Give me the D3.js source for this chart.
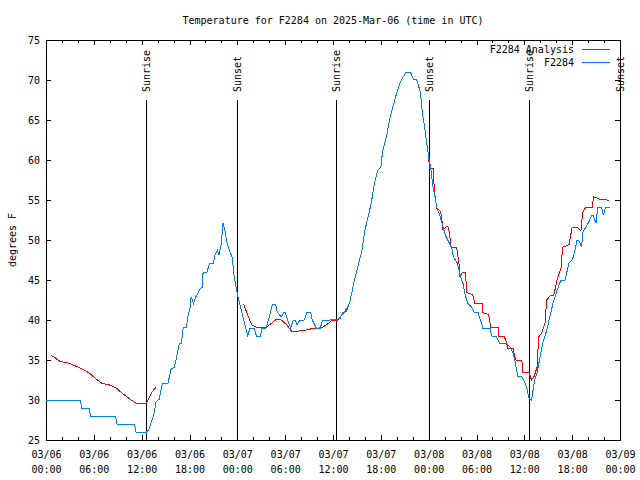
<!DOCTYPE html>
<html><head><meta charset="utf-8">
<script src="https://cdn.jsdelivr.net/npm/d3@7"></script>
<style>
body{margin:0;background:#fff}
svg{display:block}
text{font-family:"DejaVu Sans Mono","Liberation Mono",monospace;font-size:10px;fill:#000}
</style>
</head><body>
<svg id="chart" width="640" height="480"></svg>
<script>
// ---- data (hours after 2025-03-06 00:00 UTC, degrees F) ----
const chartTitle = "Temperature for F2284 on 2025-Mar-06 (time in UTC)";
const yAxisLabel = "degrees F";
const seriesNames = ["F2284 Analysis", "F2284"];
const seriesColors = ["#ff0000", "#0080ff"];
const yTickValues = [25,30,35,40,45,50,55,60,65,70,75];
const startUTC = Date.UTC(2025,2,6,0,0);
const endUTC = Date.UTC(2025,2,9,0,0);

const analysisSeries = [
 [0.6,35.6],[1.0,35.4],[1.6,34.9],[2.3,34.7],[2.9,34.6],[3.8,34.2],[4.5,33.9],[5.4,33.4],[6.3,32.6],[7.0,32.1],
 [7.9,31.9],[8.8,31.5],[9.5,30.9],[10.4,30.2],[11.3,29.6],[11.9,29.5],[12.6,29.6],[12.9,30.2],[13.3,31],[13.8,31.6],
 [19.0,null],
 [24.8,42],[25.3,40.6],[25.8,39.4],[26.4,39.1],[27.0,39],[27.6,39.1],[28.3,39.6],[28.9,40.1],[29.5,40],[30.2,39.4],
 [30.8,38.6],[31.5,38.6],[32.4,38.7],[33.3,38.9],[33.9,38.9],[34.7,39.1],[35.6,39.7],[35.9,40],[36.6,40],[37.1,40.6],
 [37.4,41],[37.7,41.4],[38.1,42.2],[38.5,44.1],[38.7,45],[39.1,46.6],[39.6,48.5],[40.0,51.2],[40.3,52.5],[40.8,54.6],
 [41.2,57.1],[41.6,58.7],[42.0,59.1],[42.2,60.9],[42.7,62.9],[43.1,65],[43.5,66.6],[44.0,68.4],[44.4,69.6],[44.7,70.2],
 [45.2,71],[45.7,71],[46.1,70.1],[46.5,70],[46.9,68.7],[47.1,67.2],[47.2,65.9],[47.5,64.1],[47.7,62.5],[48.0,60.4],
 [48.1,59],[48.6,59],[48.7,56.2],[49.0,54],[49.4,53.7],[49.6,53.1],[49.8,51.2],[50.1,51.6],[50.4,51.7],[50.6,51],
 [50.8,49.1],[51.5,49.1],[51.8,47.1],[51.9,45.5],[52.3,46],[52.6,46],[52.8,43.4],[53.5,43.2],[53.8,42.1],[54.7,42.1],
 [54.8,40.9],[55.5,40.7],[55.8,39.1],[56.7,39.1],[56.8,37.9],[57.5,37.9],[57.8,37.1],[57.9,36.4],[58.6,36.4],[58.9,35],
 [59.7,34.9],[59.8,33.4],[60.6,33.4],[60.9,32.5],[61.2,32.9],[61.6,34.1],[61.8,37.9],[62.2,38.4],[62.6,39.6],[62.8,42.5],
 [63.3,43.1],[63.7,43.1],[64.1,45],[64.6,46.5],[64.8,49.1],[65.6,49.4],[66.0,51.6],[66.6,51.6],[67.1,51.1],[67.3,53.4],
 [67.7,54.1],[68.5,54.1],[68.7,55.4],[69.2,55.2],[69.7,55],[70.1,55.1],[70.6,54.9]
];

const observedSeries = [
 [0,30],[4.3,30],[4.5,29],[5.4,29],[5.6,28],[8.7,28],[8.9,27],[11.1,27],[11.3,26],[12.6,26],
 [12.9,26.3],[13.3,27.5],[13.6,28.5],[13.8,29.8],[14.2,30.1],[14.6,32.1],[15.3,32.1],[15.7,33.9],[16.1,34.1],[16.5,35.9],
 [16.7,37],[17.0,37.1],[17.2,39],[17.6,39.1],[17.8,40.4],[18.1,41.6],[18.2,42.9],[18.5,42.1],[18.8,42.9],[19.1,43.4],
 [19.4,44],[19.6,44.1],[19.7,45.9],[20.2,46],[20.5,47.1],[21.0,47.1],[21.2,48.1],[21.5,48.7],[21.7,48.1],[22.0,49.6],
 [22.2,52.1],[22.5,50.9],[22.7,49.6],[23.0,48.7],[23.4,47.7],[23.5,46.2],[23.9,43.7],[24.5,41.2],[24.9,39.6],[25.3,38],
 [25.6,39],[26.1,39],[26.4,38],[26.9,38],[27.1,39],[27.6,39],[27.9,40],[28.4,42],[28.8,42],[29.0,41],
 [29.5,40.4],[29.8,40.9],[30.0,40.9],[30.3,40],[30.7,39],[31.0,39.9],[31.3,39.9],[31.5,39.4],[31.8,39.9],[32.4,40],
 [32.7,40.9],[33.2,40.9],[33.4,40],[33.9,39],[34.4,39],[34.7,40],[35.6,40],[36.6,40.1],[36.9,40.2],[37.2,40.9],
 [37.7,41.1],[38.1,42.2],[38.5,44.1],[38.7,45],[39.1,46.6],[39.6,48.5],[40.0,51.2],[40.3,52.5],[40.8,54.6],[41.2,57.1],
 [41.6,58.7],[42.0,59.1],[42.2,60.9],[42.7,62.9],[43.1,65],[43.5,66.6],[44.0,68.4],[44.4,69.6],[44.7,70.2],[45.2,71],
 [45.7,71],[46.1,70.1],[46.5,70],[46.9,68.7],[47.1,67.2],[47.2,65.9],[47.5,64.1],[47.7,62.5],[48.0,60.4],[48.3,58.7],
 [48.5,56.9],[48.8,55.4],[49.0,54.1],[49.4,53.1],[49.8,51.6],[50.1,50.6],[50.4,50],[50.9,49],[51.1,47.9],[51.6,47.1],
 [52.0,45.4],[52.3,44.6],[52.6,43.1],[52.9,42.1],[53.4,41.6],[53.7,41],[54.2,40.9],[54.5,40],[54.8,39],[55.7,39],
 [55.9,38],[56.5,37.9],[56.9,37.1],[57.8,37],[58.2,36.6],[58.6,35.9],[58.8,35],[59.2,32.9],[59.7,32.9],[60.1,32.1],
 [60.3,31.5],[60.6,30.2],[60.9,30],[61.3,32.5],[61.6,33.4],[61.9,35],[62.3,37.1],[62.8,38.7],[63.2,40.4],[63.6,42.1],
 [64.1,43.7],[64.6,45],[65.1,45],[65.6,47.1],[66.0,47.5],[66.3,48.4],[66.6,50],[66.8,50],[67.2,49.1],[67.3,50.9],
 [67.7,51.6],[68.0,52.1],[68.5,53.1],[68.6,53.1],[69.0,52.1],[69.2,54.1],[69.7,54.1],[69.9,53.1],[70.2,54.1],[70.7,54.1]
];

const sunriseHours = [12.56, 36.5, 60.6];
const sunsetHours = [23.96, 48.05, 72.0];

// ---- layout ----
const svg = d3.select("#chart");
const L = 46, R = 620, T = 40, B = 440;
const toDate = h => new Date(startUTC + h*3600e3);
const x = d3.scaleUtc().domain([new Date(startUTC), new Date(endUTC)]).range([L, R]);
const y = d3.scaleLinear().domain([25, 75]).range([B, T]);

const majorTicks = d3.utcHour.every(6).range(new Date(startUTC), new Date(endUTC + 1));
const minorTicks = d3.utcHour.every(2).range(new Date(startUTC), new Date(endUTC + 1));

// title
svg.append("text").attr("x", (L+R)/2).attr("y", 20).attr("dy", "0.35em")
  .attr("text-anchor", "middle").text(chartTitle);

// y label
svg.append("text").attr("transform", `translate(12,${(T+B)/2}) rotate(-90)`)
  .attr("text-anchor", "middle").attr("dy", "0.35em").text(yAxisLabel);

// axes
const fmtDay = d3.utcFormat("%m/%d"), fmtTime = d3.utcFormat("%H:%M");
const gx = svg.append("g").attr("transform", `translate(0,${B})`)
  .call(d3.axisBottom(x).tickValues(majorTicks).tickSizeInner(-5).tickSizeOuter(0).tickPadding(11)
    .tickFormat(d => fmtDay(d)));
gx.selectAll(".tick text").each(function(d){
  const t = d3.select(this);
  t.text(null);
  t.append("tspan").attr("x", 0).text(fmtDay(d));
  t.append("tspan").attr("x", 0).attr("dy", 15).text(fmtTime(d));
});
svg.append("g").attr("transform", `translate(0,${B})`)
  .call(d3.axisBottom(x).tickValues(minorTicks).tickSizeInner(-3).tickSizeOuter(0).tickFormat(""));
svg.append("g").attr("transform", `translate(0,${T})`)
  .call(d3.axisTop(x).tickValues(majorTicks).tickSizeInner(-5).tickSizeOuter(0).tickFormat(""));
svg.append("g").attr("transform", `translate(0,${T})`)
  .call(d3.axisTop(x).tickValues(minorTicks).tickSizeInner(-3).tickSizeOuter(0).tickFormat(""));
svg.append("g").attr("transform", `translate(${L},0)`)
  .call(d3.axisLeft(y).tickValues(yTickValues).tickSizeInner(-5).tickSizeOuter(0).tickPadding(6).tickFormat(d3.format("d")));
svg.append("g").attr("transform", `translate(${R},0)`)
  .call(d3.axisRight(y).tickValues(yTickValues).tickSizeInner(-5).tickSizeOuter(0).tickFormat(""));
svg.selectAll(".domain").remove();
svg.selectAll(".tick line").attr("stroke", "#000").attr("shape-rendering", "crispEdges");
svg.selectAll(".tick text").attr("font-family", null).attr("font-size", null);

// border
svg.append("rect").attr("x", L).attr("y", T).attr("width", R-L).attr("height", B-T)
  .attr("fill", "none").attr("stroke", "#000").attr("shape-rendering", "crispEdges");

// sunrise / sunset markers
const sunEvents = sunriseHours.map(h => ({h, label: "Sunrise"}))
  .concat(sunsetHours.map(h => ({h, label: "Sunset"})));
sunEvents.forEach(ev => {
  const xp = x(toDate(ev.h));
  svg.append("line").attr("x1", xp).attr("x2", xp).attr("y1", 100).attr("y2", B)
    .attr("stroke", "#000").attr("shape-rendering", "crispEdges");
  svg.append("text").attr("transform", `translate(${xp},92) rotate(-90)`)
    .attr("dy", "0.35em").attr("text-anchor", "start").text(ev.label);
});

// lines
const line = d3.line().defined(d => d[1] != null)
  .x(d => x(toDate(d[0]))).y(d => y(d[1]));
[analysisSeries, observedSeries].forEach((s, i) => {
  svg.append("path").datum(s).attr("d", line).attr("fill", "none")
    .attr("stroke", seriesColors[i]).attr("stroke-width", 1).attr("shape-rendering", "crispEdges");
});

// legend
seriesNames.forEach((n, i) => {
  const yy = 49 + i*13;
  svg.append("text").attr("x", 574).attr("y", yy).attr("dy", "0.35em").attr("text-anchor", "end").text(n);
  svg.append("line").attr("x1", 582).attr("x2", 610).attr("y1", yy).attr("y2", yy)
    .attr("stroke", seriesColors[i]).attr("shape-rendering", "crispEdges");
});
</script>
</body></html>
